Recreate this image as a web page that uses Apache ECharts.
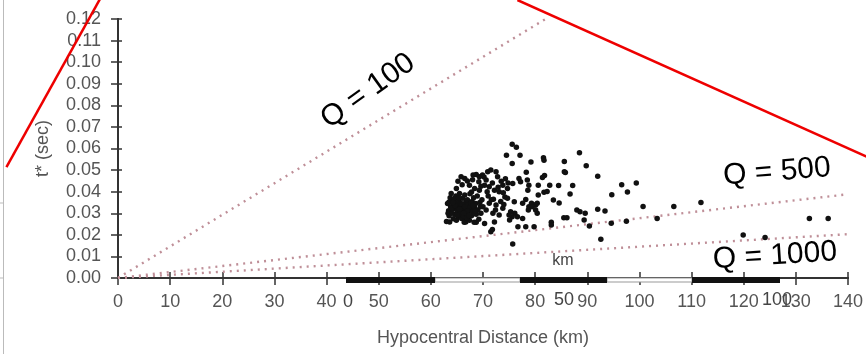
<!DOCTYPE html>
<html><head><meta charset="utf-8">
<script src="https://cdn.jsdelivr.net/npm/echarts@6/dist/echarts.min.js"></script>
<style>html,body{margin:0;padding:0;background:#fff}#c{width:866px;height:354px}</style>
</head><body><div id="c"></div><script>
// ---- axes ----
const xAxisRange = [0, 140];
const xInterval = 10;
const yAxisRange = [0, 0.12];
const yInterval = 0.01;
const xAxisTitle = 'Hypocentral Distance (km)';
const yAxisTitle = 't* (sec)';

// ---- attenuation reference lines (distance km, t* sec) ----
const q100Line = [[0, 0], [82, 0.12]];
const q500Line = [[0, 0], [140, 0.0388]];
const q1000Line = [[0, 0], [140, 0.0203]];
const qLabels = ['Q = 100', 'Q = 500', 'Q = 1000'];

// ---- red annotation strokes (in data coordinates, extend beyond the axes) ----
const redStroke1 = [[-21.4, 0.0514], [-2.5, 0.1334]];
const redStroke2 = [[76.6, 0.1288], [144.6, 0.0551]];

// ---- map scale bar overlay (km) ----
const scaleBarLabels = ['0', '50', '100'];
const scaleBarUnit = 'km';

// ---- observed t* values ----
const obsOuter = [
[75.6,0.0620],[76.4,0.0606],[74.5,0.0569],[77.1,0.0569],[75.6,0.0531],[79.2,0.0537],[81.6,0.0557],[81.7,0.0546],
[85.6,0.0540],[88.5,0.0580],[89.8,0.0520],[78.3,0.0490],[85.8,0.0489],[81.8,0.0475],[85.6,0.0492],[92.0,0.0472],
[81.4,0.0466],[80.6,0.0430],[82.8,0.0430],[84.5,0.0428],[87.2,0.0429],[96.6,0.0432],[99.4,0.0440],[80.6,0.0384],
[81.7,0.0397],[82.3,0.0401],[86.7,0.0389],[94.7,0.0386],[97.7,0.0398],[80.4,0.0346],[83.5,0.0361],[84.6,0.0347],
[100.7,0.0331],[80.4,0.0300],[88.0,0.0315],[88.6,0.0307],[89.6,0.0300],[92.0,0.0319],[93.4,0.0310],[85.5,0.0279],
[86.1,0.0279],[83.1,0.0258],[83.1,0.0245],[89.4,0.0269],[90.4,0.0241],[94.6,0.0254],[97.5,0.0263],[92.6,0.0180],
[75.7,0.0157],[76.7,0.0238],[78.2,0.0238],[79.8,0.0238],[106.6,0.0331],[111.8,0.0350],[103.4,0.0276],[132.6,0.0276],
[136.2,0.0276],[119.9,0.0199],[124.1,0.0188]
];
const obsMiddle = [
[76.9,0.0461],[78.5,0.0454],[78.8,0.0430],[78.6,0.0407],[75.7,0.0438],[77.2,0.0446],[78.2,0.0364],[79.3,0.0346],
[79.8,0.0338],[76.0,0.0353],[77.6,0.0346],[78.8,0.0330],[80.1,0.0338],[79.4,0.0330],[78.7,0.0315],[80.1,0.0315],
[76.1,0.0300],[75.6,0.0284],[75.1,0.0269],[76.6,0.0284],[77.6,0.0276],[75.3,0.0307],
[70.6,0.0454],[70.6,0.0315],[70.9,0.0492],[71.2,0.0423],[71.2,0.0346],[71.5,0.0500],[71.9,0.0300],[72.2,0.0407],
[72.2,0.0260],[72.5,0.0492],[72.5,0.0338],[72.8,0.0469],[73.1,0.0400],[73.1,0.0292],[73.8,0.0430],[73.8,0.0323],
[74.2,0.0375],[74.7,0.0415],[74.7,0.0369],[75.0,0.0292],[73.4,0.0355],[74.0,0.0340],[71.0,0.0380],[72.0,0.0365],
[73.5,0.0448],[74.3,0.0460],[70.2,0.0468],[71.8,0.0440],[72.9,0.0420],[70.8,0.0400],[71.6,0.0362],[73.9,0.0395],
[74.8,0.0440],[72.4,0.0315]
];
const obsCore = [
[65.8,0.0469],[66.5,0.0461],[68.1,0.0477],[68.7,0.0480],[69.3,0.0469],[69.9,0.0477],[69.2,0.0446],[67.4,0.0430],
[68.4,0.0415],[69.3,0.0407],[70.3,0.0430],[64.9,0.0415],[63.9,0.0392],[65.5,0.0392],[66.5,0.0384],[64.6,0.0369],
[63.6,0.0260],[64.9,0.0268],[66.2,0.0276],[67.4,0.0268],[68.7,0.0258],[70.3,0.0253],[71.5,0.0214],[71.8,0.0225],
[63.0,0.0262],[66.7,0.0260],[67.0,0.0450],[66.0,0.0432],[68.0,0.0455],[69.6,0.0425],[65.2,0.0448],[67.8,0.0398],
[63.2,0.0345],[63.4,0.0312],[63.5,0.0288],[63.7,0.0372],[63.8,0.0330],[64.0,0.0300],[64.1,0.0355],[64.2,0.0318],
[64.3,0.0275],[64.4,0.0340],[64.5,0.0365],[64.6,0.0295],[64.7,0.0322],[64.8,0.0380],[65.0,0.0348],[65.1,0.0310],
[65.2,0.0333],[65.3,0.0285],[65.4,0.0360],[65.6,0.0302],[65.7,0.0325],[65.8,0.0345],[65.9,0.0276],[66.0,0.0315],
[66.1,0.0370],[66.2,0.0290],[66.3,0.0338],[66.4,0.0258],[66.6,0.0305],[66.7,0.0352],[66.8,0.0322],[66.9,0.0280],
[67.0,0.0362],[67.1,0.0298],[67.2,0.0340],[67.4,0.0315],[67.5,0.0390],[67.6,0.0330],[67.8,0.0288],[67.9,0.0355],
[68.0,0.0308],[68.2,0.0372],[68.3,0.0258],[68.4,0.0325],[68.6,0.0345],[68.7,0.0295],[68.9,0.0380],[69.0,0.0315],
[69.2,0.0272],[69.4,0.0350],[69.6,0.0300],[69.8,0.0362],[70.0,0.0330],[63.5,0.0352],[64.0,0.0326],[64.6,0.0335],
[65.0,0.0292],[65.5,0.0318],[66.0,0.0342],[66.5,0.0330],[67.0,0.0310],[67.7,0.0348],[68.1,0.0336],[63.3,0.0300],
[64.2,0.0350],[65.3,0.0372],[66.3,0.0300],[67.3,0.0290],[68.5,0.0310],[69.5,0.0330]
];

const FONT = 'Liberation Sans, Arial, Helvetica, sans-serif';
const chart = echarts.init(document.getElementById('c'), null, {renderer: 'canvas'});

function qLine(data) {
  return {type: 'line', data: data, symbol: 'none', silent: true, z: 1,
    lineStyle: {color: '#bf8f98', width: 2.4, type: [2, 5]}};
}
function dots(data) {
  return {type: 'scatter', data: data, symbol: 'circle', symbolSize: 5.5, z: 5,
    itemStyle: {color: '#111', opacity: 1}};
}

const axisLine = {show: true, lineStyle: {color: '#333', width: 2}};
const label = {color: '#555', fontSize: 18, fontFamily: FONT};

chart.setOption({
  backgroundColor: '#fff',
  animation: false,
  grid: {left: 118, top: 19, width: 738, height: 259, containLabel: false},
  xAxis: [
    {type: 'value', min: xAxisRange[0], max: xAxisRange[1], interval: xInterval, position: 'bottom',
     name: xAxisTitle, nameLocation: 'middle', nameGap: 51,
     nameTextStyle: {color: '#555', fontSize: 18, fontFamily: FONT},
     axisLine: axisLine, axisTick: {show: true, length: 7, lineStyle: {color: '#333', width: 1.5}},
     axisLabel: Object.assign({margin: 15}, label), splitLine: {show: false}},
    {type: 'value', min: xAxisRange[0], max: xAxisRange[1], interval: xInterval, position: 'top',
     axisLine: axisLine, axisTick: {show: true, length: 6, lineStyle: {color: '#333', width: 1.5}},
     axisLabel: {show: false}, splitLine: {show: false}}
  ],
  yAxis: [
    {type: 'value', min: yAxisRange[0], max: yAxisRange[1], interval: yInterval, position: 'left',
     name: yAxisTitle, nameLocation: 'middle', nameGap: 66,
     nameTextStyle: {color: '#555', fontSize: 18, fontFamily: FONT},
     axisLine: axisLine, axisTick: {show: true, length: 7, lineStyle: {color: '#333', width: 1.5}},
     axisLabel: Object.assign({margin: 17, formatter: v => v.toFixed(2)}, label), splitLine: {show: false}},
    {type: 'value', min: yAxisRange[0], max: yAxisRange[1], interval: yInterval, position: 'right',
     axisLine: axisLine, axisTick: {show: true, length: 4, lineStyle: {color: '#333', width: 1.5}},
     axisLabel: {show: false}, splitLine: {show: false}}
  ],
  series: [
    qLine(q100Line), qLine(q500Line), qLine(q1000Line),
    dots(obsOuter), dots(obsMiddle), dots(obsCore)
  ]
});

// decorations: pixel positions derived through the chart's own axes
const toPx = p => chart.convertToPixel({xAxisIndex: 0, yAxisIndex: 0}, p);
const redPoly = d => ({type: 'polyline', shape: {points: d.map(toPx)},
  style: {stroke: '#ee0000', lineWidth: 2.5, fill: null}, z: 80});
const sbY = 277, sbH = 6;
const txt = (t, x, y, size, fill, rot) => ({type: 'text', x: x, y: y, rotation: rot || 0, z: 62,
  style: {text: t, fill: fill, font: size + 'px ' + FONT, align: 'center', verticalAlign: 'middle'}});
chart.setOption({graphic: [
  {type: 'line', shape: {x1: 3.5, y1: 0, x2: 3.5, y2: 354}, style: {stroke: '#bbb', lineWidth: 1}, z: 50},
  {type: 'line', shape: {x1: 0, y1: 203, x2: 3.5, y2: 203}, style: {stroke: '#bbb', lineWidth: 1}, z: 50},
  {type: 'line', shape: {x1: 0, y1: 278, x2: 3.5, y2: 278}, style: {stroke: '#bbb', lineWidth: 1}, z: 50},
  {type: 'rect', shape: {x: 435, y: sbY + 1, width: 85, height: sbH - 2}, style: {fill: '#fff', stroke: '#999', lineWidth: 1}, z: 60},
  {type: 'rect', shape: {x: 607, y: sbY + 1, width: 85, height: sbH - 2}, style: {fill: '#fff', stroke: '#999', lineWidth: 1}, z: 60},
  {type: 'rect', shape: {x: 346, y: sbY, width: 89, height: sbH}, style: {fill: '#111'}, z: 61},
  {type: 'rect', shape: {x: 520, y: sbY, width: 87, height: sbH}, style: {fill: '#111'}, z: 61},
  {type: 'rect', shape: {x: 692, y: sbY, width: 88, height: sbH}, style: {fill: '#111'}, z: 61},
  txt(scaleBarLabels[0], 348, 302, 18, '#444'),
  txt(scaleBarLabels[1], 564, 300, 18, '#444'),
  txt(scaleBarLabels[2], 777, 300, 18, '#444'),
  txt(scaleBarUnit, 563, 261, 16, '#444'),
  txt(qLabels[0], 368, 91, 30, '#000', 0.62),
  txt(qLabels[1], 777, 172, 30, '#000', 0.08),
  txt(qLabels[2], 775, 256, 30, '#000', 0.065),
  redPoly(redStroke1), redPoly(redStroke2)
]});
</script></body></html>
